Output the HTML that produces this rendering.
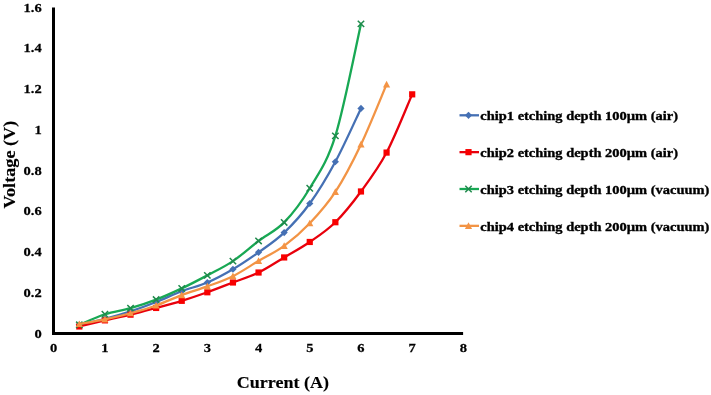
<!DOCTYPE html>
<html><head><meta charset="utf-8"><style>
html,body{margin:0;padding:0;background:#fff;}
body{width:711px;height:395px;overflow:hidden;}
svg{display:block;will-change:transform;}
text{font-family:'Liberation Serif',serif;font-weight:bold;fill:#000;stroke:#000;}
</style></head><body>
<svg width="711" height="395" viewBox="0 0 711 395">
<rect width="711" height="395" fill="#fff"/>
<g font-size="13.33" style="stroke-width:0.25px">
<text transform="translate(41.7,337.50) scale(1.09,1)" text-anchor="end">0</text>
<text transform="translate(41.7,296.77) scale(1.09,1)" text-anchor="end">0.2</text>
<text transform="translate(41.7,256.05) scale(1.09,1)" text-anchor="end">0.4</text>
<text transform="translate(41.7,215.32) scale(1.09,1)" text-anchor="end">0.6</text>
<text transform="translate(41.7,174.60) scale(1.09,1)" text-anchor="end">0.8</text>
<text transform="translate(41.7,133.88) scale(1.09,1)" text-anchor="end">1</text>
<text transform="translate(41.7,93.15) scale(1.09,1)" text-anchor="end">1.2</text>
<text transform="translate(41.7,52.42) scale(1.09,1)" text-anchor="end">1.4</text>
<text transform="translate(41.7,11.70) scale(1.09,1)" text-anchor="end">1.6</text>
<text transform="translate(53.70,351.8) scale(1.09,1)" text-anchor="middle">0</text>
<text transform="translate(104.91,351.8) scale(1.09,1)" text-anchor="middle">1</text>
<text transform="translate(156.12,351.8) scale(1.09,1)" text-anchor="middle">2</text>
<text transform="translate(207.34,351.8) scale(1.09,1)" text-anchor="middle">3</text>
<text transform="translate(258.55,351.8) scale(1.09,1)" text-anchor="middle">4</text>
<text transform="translate(309.76,351.8) scale(1.09,1)" text-anchor="middle">5</text>
<text transform="translate(360.97,351.8) scale(1.09,1)" text-anchor="middle">6</text>
<text transform="translate(412.19,351.8) scale(1.09,1)" text-anchor="middle">7</text>
<text transform="translate(463.40,351.8) scale(1.09,1)" text-anchor="middle">8</text>
</g>
<line x1="53.5" y1="7.6" x2="53.5" y2="334.9" stroke="#000" stroke-width="3"/>
<line x1="52" y1="333.4" x2="463.1" y2="333.4" stroke="#000" stroke-width="3"/>
<path d="M79.31,324.85 C83.57,323.86 96.38,321.18 104.91,318.94 C113.45,316.70 121.98,314.23 130.52,311.41 C139.05,308.59 147.59,305.40 156.12,302.04 C164.66,298.68 173.20,294.51 181.73,291.25 C190.27,287.99 198.80,286.16 207.34,282.49 C215.87,278.83 224.41,274.28 232.94,269.26 C241.48,264.24 250.01,258.47 258.55,252.36 C267.09,246.25 275.62,240.75 284.16,232.61 C292.69,224.46 301.23,215.30 309.76,203.49 C318.30,191.68 326.83,177.59 335.37,161.74 C343.90,145.90 356.71,117.29 360.97,108.39" stroke="#4570B4" stroke-width="2.3" fill="none" stroke-linejoin="round" stroke-linecap="round"/>
<path d="M79.31,321.25 L82.91,324.85 L79.31,328.45 L75.71,324.85Z" fill="#4570B4"/>
<path d="M104.91,315.34 L108.51,318.94 L104.91,322.54 L101.31,318.94Z" fill="#4570B4"/>
<path d="M130.52,307.81 L134.12,311.41 L130.52,315.01 L126.92,311.41Z" fill="#4570B4"/>
<path d="M156.12,298.44 L159.72,302.04 L156.12,305.64 L152.53,302.04Z" fill="#4570B4"/>
<path d="M181.73,287.65 L185.33,291.25 L181.73,294.85 L178.13,291.25Z" fill="#4570B4"/>
<path d="M207.34,278.89 L210.94,282.49 L207.34,286.09 L203.74,282.49Z" fill="#4570B4"/>
<path d="M232.94,265.66 L236.54,269.26 L232.94,272.86 L229.34,269.26Z" fill="#4570B4"/>
<path d="M258.55,248.76 L262.15,252.36 L258.55,255.96 L254.95,252.36Z" fill="#4570B4"/>
<path d="M284.16,229.01 L287.76,232.61 L284.16,236.21 L280.56,232.61Z" fill="#4570B4"/>
<path d="M309.76,199.89 L313.36,203.49 L309.76,207.09 L306.16,203.49Z" fill="#4570B4"/>
<path d="M335.37,158.14 L338.97,161.74 L335.37,165.34 L331.77,161.74Z" fill="#4570B4"/>
<path d="M360.97,104.79 L364.57,108.39 L360.97,111.99 L357.37,108.39Z" fill="#4570B4"/>
<path d="M79.31,326.48 C83.57,325.46 96.38,322.34 104.91,320.37 C113.45,318.40 121.98,316.74 130.52,314.67 C139.05,312.60 147.59,310.25 156.12,307.95 C164.66,305.64 173.20,303.43 181.73,300.82 C190.27,298.21 198.80,295.32 207.34,292.27 C215.87,289.21 224.41,285.79 232.94,282.49 C241.48,279.20 250.01,276.69 258.55,272.52 C267.09,268.34 275.62,262.54 284.16,257.45 C292.69,252.36 301.23,247.84 309.76,241.97 C318.30,236.10 326.83,230.64 335.37,222.22 C343.90,213.80 352.44,203.08 360.97,191.47 C369.51,179.87 378.05,168.77 386.58,152.58 C395.12,136.39 407.92,104.05 412.19,94.34" stroke="#E8000C" stroke-width="2.3" fill="none" stroke-linejoin="round" stroke-linecap="round"/>
<rect x="76.21" y="323.38" width="6.20" height="6.20" fill="#F80000"/>
<rect x="101.81" y="317.27" width="6.20" height="6.20" fill="#F80000"/>
<rect x="127.42" y="311.57" width="6.20" height="6.20" fill="#F80000"/>
<rect x="153.03" y="304.85" width="6.20" height="6.20" fill="#F80000"/>
<rect x="178.63" y="297.72" width="6.20" height="6.20" fill="#F80000"/>
<rect x="204.24" y="289.17" width="6.20" height="6.20" fill="#F80000"/>
<rect x="229.84" y="279.39" width="6.20" height="6.20" fill="#F80000"/>
<rect x="255.45" y="269.42" width="6.20" height="6.20" fill="#F80000"/>
<rect x="281.06" y="254.35" width="6.20" height="6.20" fill="#F80000"/>
<rect x="306.66" y="238.87" width="6.20" height="6.20" fill="#F80000"/>
<rect x="332.27" y="219.12" width="6.20" height="6.20" fill="#F80000"/>
<rect x="357.87" y="188.37" width="6.20" height="6.20" fill="#F80000"/>
<rect x="383.48" y="149.48" width="6.20" height="6.20" fill="#F80000"/>
<rect x="409.09" y="91.24" width="6.20" height="6.20" fill="#F80000"/>
<path d="M79.31,324.85 C83.57,323.08 96.38,317.04 104.91,314.26 C113.45,311.48 121.98,310.59 130.52,308.15 C139.05,305.71 147.59,302.89 156.12,299.60 C164.66,296.31 173.20,292.44 181.73,288.40 C190.27,284.36 198.80,279.91 207.34,275.37 C215.87,270.82 224.41,266.85 232.94,261.11 C241.48,255.38 250.01,247.40 258.55,240.95 C267.09,234.51 275.62,231.21 284.16,222.42 C292.69,213.63 301.23,202.64 309.76,188.22 C318.30,173.79 326.83,163.27 335.37,135.88 C343.90,108.50 356.71,42.56 360.97,23.89" stroke="#18A854" stroke-width="2.3" fill="none" stroke-linejoin="round" stroke-linecap="round"/>
<path d="M76.11,321.65 L82.51,328.05 M82.51,321.65 L76.11,328.05" stroke="#1F8A4C" stroke-width="1.5" fill="none"/>
<path d="M101.71,311.06 L108.11,317.46 M108.11,311.06 L101.71,317.46" stroke="#1F8A4C" stroke-width="1.5" fill="none"/>
<path d="M127.32,304.95 L133.72,311.35 M133.72,304.95 L127.32,311.35" stroke="#1F8A4C" stroke-width="1.5" fill="none"/>
<path d="M152.93,296.40 L159.32,302.80 M159.32,296.40 L152.93,302.80" stroke="#1F8A4C" stroke-width="1.5" fill="none"/>
<path d="M178.53,285.20 L184.93,291.60 M184.93,285.20 L178.53,291.60" stroke="#1F8A4C" stroke-width="1.5" fill="none"/>
<path d="M204.14,272.17 L210.54,278.57 M210.54,272.17 L204.14,278.57" stroke="#1F8A4C" stroke-width="1.5" fill="none"/>
<path d="M229.74,257.91 L236.14,264.31 M236.14,257.91 L229.74,264.31" stroke="#1F8A4C" stroke-width="1.5" fill="none"/>
<path d="M255.35,237.75 L261.75,244.15 M261.75,237.75 L255.35,244.15" stroke="#1F8A4C" stroke-width="1.5" fill="none"/>
<path d="M280.96,219.22 L287.36,225.62 M287.36,219.22 L280.96,225.62" stroke="#1F8A4C" stroke-width="1.5" fill="none"/>
<path d="M306.56,185.02 L312.96,191.42 M312.96,185.02 L306.56,191.42" stroke="#1F8A4C" stroke-width="1.5" fill="none"/>
<path d="M332.17,132.68 L338.57,139.08 M338.57,132.68 L332.17,139.08" stroke="#1F8A4C" stroke-width="1.5" fill="none"/>
<path d="M357.77,20.69 L364.17,27.09 M364.17,20.69 L357.77,27.09" stroke="#1F8A4C" stroke-width="1.5" fill="none"/>
<path d="M79.31,324.03 C83.57,323.25 96.38,321.15 104.91,319.35 C113.45,317.55 121.98,315.55 130.52,313.24 C139.05,310.93 147.59,308.52 156.12,305.50 C164.66,302.48 173.20,298.31 181.73,295.12 C190.27,291.93 198.80,289.52 207.34,286.36 C215.87,283.21 224.41,280.42 232.94,276.18 C241.48,271.94 250.01,265.97 258.55,260.91 C267.09,255.85 275.62,252.12 284.16,245.84 C292.69,239.56 301.23,232.23 309.76,223.24 C318.30,214.25 326.83,205.01 335.37,191.88 C343.90,178.75 352.44,162.35 360.97,144.44 C369.51,126.52 382.31,94.38 386.58,84.37" stroke="#F29445" stroke-width="2.3" fill="none" stroke-linejoin="round" stroke-linecap="round"/>
<path d="M79.31,320.43 L82.91,327.09 L75.71,327.09Z" fill="#F49445"/>
<path d="M104.91,315.75 L108.51,322.41 L101.31,322.41Z" fill="#F49445"/>
<path d="M130.52,309.64 L134.12,316.30 L126.92,316.30Z" fill="#F49445"/>
<path d="M156.12,301.90 L159.72,308.56 L152.53,308.56Z" fill="#F49445"/>
<path d="M181.73,291.52 L185.33,298.18 L178.13,298.18Z" fill="#F49445"/>
<path d="M207.34,282.76 L210.94,289.42 L203.74,289.42Z" fill="#F49445"/>
<path d="M232.94,272.58 L236.54,279.24 L229.34,279.24Z" fill="#F49445"/>
<path d="M258.55,257.31 L262.15,263.97 L254.95,263.97Z" fill="#F49445"/>
<path d="M284.16,242.24 L287.76,248.90 L280.56,248.90Z" fill="#F49445"/>
<path d="M309.76,219.64 L313.36,226.30 L306.16,226.30Z" fill="#F49445"/>
<path d="M335.37,188.28 L338.97,194.94 L331.77,194.94Z" fill="#F49445"/>
<path d="M360.97,140.84 L364.57,147.50 L357.37,147.50Z" fill="#F49445"/>
<path d="M386.58,80.77 L390.18,87.43 L382.98,87.43Z" fill="#F49445"/>
<g font-size="13.33" style="stroke-width:0.35px">
<line x1="459.5" y1="115.3" x2="479" y2="115.3" stroke="#4570B4" stroke-width="2.3"/>
<path d="M468.50,111.70 L472.10,115.30 L468.50,118.90 L464.90,115.30Z" fill="#4570B4"/>
<text transform="translate(480.3,120.30) scale(1.085,1)">chip1 etching depth 100&#181;m (air)</text>
<line x1="459.5" y1="152.15" x2="479" y2="152.15" stroke="#E8000C" stroke-width="2.3"/>
<rect x="465.40" y="149.05" width="6.20" height="6.20" fill="#F80000"/>
<text transform="translate(480.3,157.15) scale(1.085,1)">chip2 etching depth 200&#181;m (air)</text>
<line x1="459.5" y1="189.0" x2="479" y2="189.0" stroke="#18A854" stroke-width="2.3"/>
<path d="M465.30,185.80 L471.70,192.20 M471.70,185.80 L465.30,192.20" stroke="#1F8A4C" stroke-width="1.5" fill="none"/>
<text transform="translate(480.3,194.00) scale(1.085,1)">chip3 etching depth 100&#181;m (vacuum)</text>
<line x1="459.5" y1="225.85" x2="479" y2="225.85" stroke="#F29445" stroke-width="2.3"/>
<path d="M468.50,222.25 L472.10,228.91 L464.90,228.91Z" fill="#F49445"/>
<text transform="translate(480.3,230.85) scale(1.085,1)">chip4 etching depth 200&#181;m (vacuum)</text>
</g>
<text transform="translate(282.8,388.4) scale(1.04,1)" font-size="17.33" style="stroke-width:0.15px" text-anchor="middle">Current (A)</text>
<text transform="translate(14.5,164.6) rotate(-90) scale(1.05,1)" font-size="17.33" style="stroke-width:0.15px" text-anchor="middle">Voltage (V)</text>
</svg>
</body></html>
